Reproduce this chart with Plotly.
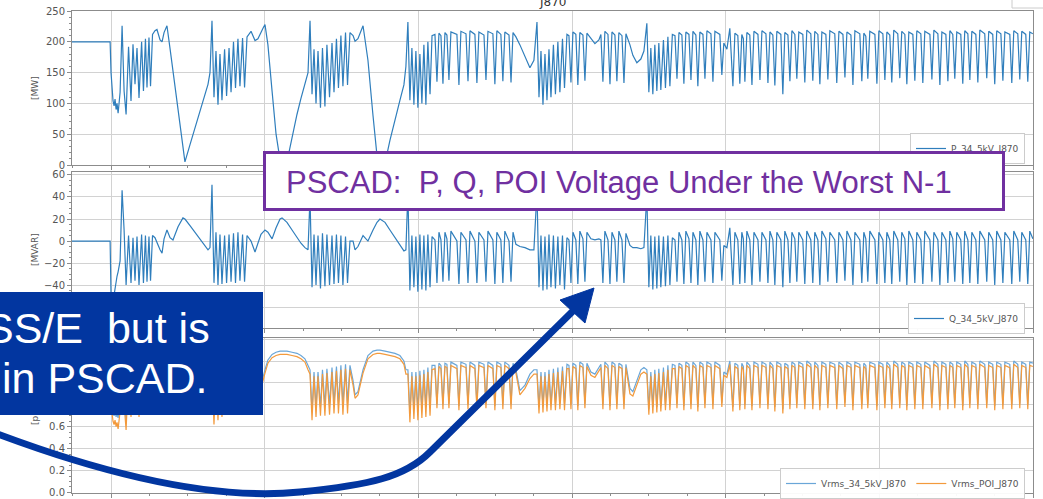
import plotly.graph_objects as go
from plotly.subplots import make_subplots

# ---------------- data ----------------
time_s = [
    0.746, 0.994,
    1.000, 1.007, 1.013, 1.020, 1.026, 1.033, 1.039, 1.046, 1.052, 1.059, 1.072, 1.085,
    1.098, 1.114, 1.130, 1.143, 1.156, 1.169, 1.182, 1.199, 1.211, 1.224, 1.234, 1.247, 1.257, 1.270,
    1.286, 1.299, 1.319, 1.332, 1.345, 1.364, 1.384, 1.403, 1.436, 1.468, 1.481, 1.514, 1.547, 1.579, 1.612, 1.631, 1.644,
    1.657, 1.670, 1.683, 1.696, 1.709, 1.722, 1.739, 1.752, 1.768, 1.781, 1.797, 1.810, 1.826, 1.839, 1.856, 1.869, 1.885,
    1.911, 1.937, 1.956, 1.976, 1.989, 2.002, 2.021, 2.048, 2.074, 2.100, 2.113, 2.145, 2.178, 2.210, 2.236, 2.262, 2.282,
    2.295, 2.308, 2.321, 2.334, 2.347, 2.363, 2.376, 2.392, 2.405, 2.422, 2.438, 2.451, 2.467, 2.480, 2.496, 2.509, 2.526, 2.539, 2.555,
    2.575, 2.588, 2.607, 2.640, 2.672, 2.705, 2.731, 2.750, 2.783, 2.815, 2.848, 2.880, 2.906, 2.919,
    2.932, 2.945, 2.958, 2.971, 2.984, 2.997, 3.010, 3.023, 3.036, 3.049, 3.062, 3.076, 3.089,
    3.108, 3.121, 3.134, 3.147, 3.160, 3.173, 3.186, 3.199, 3.212, 3.251, 3.264, 3.277, 3.310, 3.323, 3.336,
    3.368, 3.381, 3.394, 3.427, 3.440, 3.453, 3.485, 3.498, 3.511, 3.537, 3.550, 3.563, 3.590, 3.603, 3.616,
    3.635, 3.661, 3.694, 3.726, 3.752,
    3.772, 3.785, 3.798, 3.811, 3.824, 3.837, 3.850, 3.863, 3.879, 3.892, 3.908, 3.921, 3.938, 3.951, 3.967,
    3.980, 3.993, 4.006, 4.025, 4.038, 4.051, 4.071, 4.084, 4.097, 4.123, 4.149, 4.175, 4.188, 4.201, 4.214,
    4.234, 4.247, 4.260, 4.279, 4.292, 4.305, 4.325, 4.338, 4.351, 4.377, 4.396, 4.422, 4.448, 4.468,
    4.487, 4.500, 4.513, 4.526, 4.539, 4.552, 4.565, 4.578, 4.595, 4.608, 4.624, 4.637, 4.653,
    4.670, 4.683, 4.696, 4.715, 4.728, 4.741, 4.761, 4.774, 4.787, 4.806, 4.819, 4.832, 4.852, 4.865, 4.878,
    4.904, 4.917, 4.930, 4.962, 4.975, 4.988, 5.008, 5.027, 5.047, 5.060, 5.079, 5.092, 5.105, 5.115, 5.125,
    5.138, 5.157, 5.171, 5.184, 5.210, 5.223, 5.236, 5.262, 5.275, 5.288, 5.307, 5.320, 5.333, 5.359, 5.372,
    5.385, 5.405, 5.418, 5.431, 5.450, 5.463, 5.476, 5.502, 5.515, 5.528, 5.554, 5.567, 5.580, 5.600, 5.613,
    5.626, 5.652, 5.665, 5.678, 5.710, 5.723, 5.737, 5.763, 5.776, 5.789, 5.815, 5.828, 5.841, 5.873, 5.886,
    5.899, 5.912, 5.925, 5.938, 5.971, 5.984, 5.997, 6.023, 6.036, 6.049, 6.068, 6.081, 6.094, 6.120, 6.133,
    6.146, 6.166, 6.179, 6.192, 6.218, 6.231, 6.244, 6.270, 6.283, 6.296, 6.329, 6.342, 6.355, 6.381, 6.394,
    6.407, 6.433, 6.446, 6.459, 6.478, 6.491, 6.504, 6.530, 6.543, 6.556, 6.576, 6.589, 6.602, 6.628, 6.641,
    6.654, 6.686, 6.699, 6.712, 6.738, 6.751, 6.764, 6.791, 6.804, 6.817, 6.849, 6.862, 6.875, 6.901, 6.914,
    6.927, 6.953, 6.966, 6.979, 6.999,
]

p_mw = [
    200, 200,
    150, 112, 104, 96, 107, 90, 100, 84, 108, 118, 226, 120,
    82, 192, 104, 196, 131, 190, 109, 200, 120, 205, 126, 207, 128, 212,
    218, 220, 203, 200, 215, 226, 189, 152, 91, 30, 5, 33, 60, 88, 115, 131, 150,
    234, 110, 185, 98, 180, 105, 188, 112, 190, 118, 200, 125, 205, 128, 206, 126, 208,
    217, 202, 205, 217, 222, 228, 195, 120, 50, 8, 2, 5, 45, 82, 108, 131, 150,
    234, 115, 188, 100, 185, 93, 190, 95, 195, 110, 198, 118, 205, 125, 210, 128, 215, 130, 215,
    210, 201, 205, 226, 170, 80, 15, 2, 3, 40, 75, 105, 130, 160,
    232, 105, 190, 98, 185, 93, 180, 100, 195, 98, 200, 115, 210,
    212, 135, 214, 210, 132, 215, 211, 138, 216, 212, 130, 217, 213, 136, 218,
    212, 133, 216, 211, 138, 217, 213, 131, 218, 212, 136, 216, 211, 134, 215,
    208, 195, 175, 158, 170,
    232, 110, 185, 98, 180, 105, 188, 110, 195, 115, 200, 118, 205, 125, 212,
    210, 134, 216, 212, 130, 215, 211, 137, 214, 206, 197, 203, 212, 135, 217,
    212, 131, 216, 211, 136, 215, 210, 133, 213, 195, 178, 166, 172, 185,
    230, 118, 190, 115, 195, 120, 198, 122, 203, 125, 208, 128, 212,
    210, 140, 215, 211, 132, 216, 212, 138, 217, 211, 128, 216, 212, 140, 218,
    213, 135, 217, 212, 146, 198, 188, 222, 128, 214, 210, 132, 212, 205, 135,
    215, 211, 130, 217, 212, 138, 218, 213, 133, 216, 211, 129, 217, 212, 115,
    215, 211, 136, 218, 212, 140, 216, 212, 134, 219, 213, 137, 217, 212, 131,
    216, 212, 139, 218, 213, 133, 217, 212, 142, 216, 211, 130, 218, 213, 136,
    214, 209, 140, 217, 212, 132, 218, 213, 138, 216, 211, 134, 219, 213, 141,
    217, 212, 131, 216, 212, 137, 218, 213, 133, 217, 212, 139, 219, 213, 130,
    216, 212, 136, 218, 212, 140, 216, 212, 132, 218, 213, 138, 217, 212, 134,
    219, 213, 141, 217, 212, 131, 218, 213, 137, 216, 212, 133, 218, 213, 139,
    217, 212, 135, 216, 213,
]

q_mvar = [
    0, 0,
    -50, -62, -55, -48, -42, -38, -32, -28, -22, -18, 46, 10,
    -40, 5, -38, 3, -36, 4, -40, 6, -38, 5, -37, 4, -36, 5,
    3, -2, -8, -11, 2, 10, 3, 1, 13, 21, 20, 14, 8, 2, -4, -8, -6,
    51, -38, 8, -40, 6, -39, 5, -38, 6, -37, 7, -38, 8, -36, 6, -37, 5,
    0, -10, -2, 6, 8, 10, 8, 2, 12, 20, 21, 17, 10, 3, -2, -6, -8,
    40, -42, 6, -40, 5, -43, 7, -41, 6, -40, 5, -39, 6, -38, 5, -40, 4, -38, 0,
    0, -8, -5, 5, 0, 10, 17, 20, 17, 10, 3, -4, -9, -8,
    45, -45, 5, -42, 4, -46, 6, -44, 5, -45, 6, -42, 4,
    1, -38, 8, 1, -37, 8, 2, -36, 9, 0, -39, 8, 1, -38, 9,
    0, -38, 8, 1, -37, 9, 1, -39, 8, 1, -38, 9, 0, -37, 8,
    -3, -5, -6, -8, -8,
    45, -42, 5, -45, 4, -44, 6, -42, 5, -43, 4, -40, 5, -44, 3,
    1, -38, 8, 1, -39, 9, 2, -37, 8, 2, 1, 2, 1, -38, 9,
    1, -39, 8, 1, -37, 9, 1, -38, 7, -4, -6, -6, -7, -6,
    42, -42, 5, -44, 4, -43, 5, -42, 4, -41, 5, -40, 3,
    1, -37, 8, 1, -39, 9, 2, -38, 8, 1, -40, 9, 1, -37, 8,
    1, -38, 8, 1, -36, -4, -6, 12, -40, 8, 1, -39, 8, 2, -38,
    9, 1, -40, 8, 1, -37, 8, 1, -38, 9, 1, -40, 8, 1, -42,
    9, 1, -38, 8, 2, -37, 8, 1, -39, 9, 1, -38, 8, 1, -40,
    9, 2, -37, 8, 1, -38, 8, 1, -36, 9, 1, -40, 8, 1, -38,
    8, 2, -37, 9, 1, -39, 8, 1, -38, 8, 1, -39, 9, 1, -37,
    8, 2, -40, 9, 1, -38, 8, 1, -39, 9, 1, -37, 8, 1, -40,
    8, 1, -38, 9, 2, -37, 8, 1, -39, 9, 1, -38, 8, 1, -39,
    9, 1, -37, 8, 1, -40, 9, 1, -38, 8, 1, -39, 9, 1, -37,
    8, 1, -39, 9, 2,
]

v_34kv = [
    1.01, 1.01,
    0.86, 0.74, 0.72, 0.70, 0.74, 0.69, 0.72, 0.68, 0.75, 0.82, 1.10, 0.90,
    0.66, 1.12, 0.78, 1.13, 0.84, 1.12, 0.80, 1.14, 0.82, 1.15, 0.83, 1.16, 0.84, 1.18,
    1.12, 1.05, 0.95, 0.92, 1.02, 1.15, 1.24, 1.28, 1.30, 1.30, 1.30, 1.29, 1.28, 1.27, 1.24, 1.18, 1.10,
    1.12, 0.70, 1.10, 0.75, 1.10, 0.78, 1.12, 0.80, 1.13, 0.81, 1.14, 0.82, 1.15, 0.83, 1.16, 0.83, 1.17,
    1.10, 0.95, 0.90, 0.98, 1.05, 1.12, 1.21, 1.26, 1.28, 1.29, 1.29, 1.29, 1.28, 1.27, 1.25, 1.22, 1.16,
    1.12, 0.74, 1.10, 0.78, 1.10, 0.78, 1.12, 0.79, 1.13, 0.80, 1.14, 0.81, 1.15, 0.81, 1.16, 0.81, 1.17, 0.82, 1.16,
    1.02, 0.89, 0.92, 1.12, 1.25, 1.29, 1.30, 1.30, 1.29, 1.28, 1.27, 1.25, 1.20, 1.12,
    1.12, 0.72, 1.10, 0.76, 1.10, 0.75, 1.11, 0.77, 1.12, 0.78, 1.14, 0.79, 1.16,
    1.16, 0.80, 1.18, 1.16, 0.80, 1.18, 1.17, 0.81, 1.19, 1.16, 0.79, 1.19, 1.17, 0.80, 1.19,
    1.16, 0.80, 1.19, 1.17, 0.81, 1.19, 1.16, 0.79, 1.19, 1.17, 0.80, 1.19, 1.16, 0.80, 1.18,
    1.12, 0.93, 0.98, 1.08, 1.12,
    1.12, 0.78, 1.10, 0.79, 1.10, 0.80, 1.12, 0.80, 1.13, 0.81, 1.14, 0.82, 1.15, 0.81, 1.17,
    1.16, 0.80, 1.18, 1.16, 0.79, 1.19, 1.17, 0.81, 1.18, 1.10, 1.08, 1.14, 1.17, 0.80, 1.19,
    1.16, 0.79, 1.19, 1.17, 0.80, 1.18, 1.16, 0.80, 1.17, 0.95, 0.92, 1.02, 1.12, 1.14,
    1.12, 0.76, 1.10, 0.78, 1.12, 0.78, 1.13, 0.79, 1.14, 0.80, 1.16, 0.80, 1.17,
    1.16, 0.81, 1.18, 1.16, 0.79, 1.19, 1.17, 0.80, 1.19, 1.16, 0.78, 1.19, 1.17, 0.81, 1.19,
    1.17, 0.80, 1.19, 1.16, 0.82, 1.10, 1.08, 1.20, 0.78, 1.18, 1.16, 0.79, 1.18, 1.15, 0.80,
    1.19, 1.16, 0.79, 1.19, 1.17, 0.81, 1.19, 1.17, 0.80, 1.19, 1.16, 0.78, 1.19, 1.17, 0.76,
    1.18, 1.16, 0.80, 1.19, 1.17, 0.81, 1.19, 1.17, 0.80, 1.20, 1.17, 0.80, 1.19, 1.16, 0.79,
    1.19, 1.17, 0.81, 1.19, 1.17, 0.80, 1.19, 1.16, 0.82, 1.19, 1.17, 0.79, 1.19, 1.17, 0.80,
    1.18, 1.16, 0.81, 1.19, 1.17, 0.79, 1.19, 1.17, 0.81, 1.19, 1.16, 0.80, 1.20, 1.17, 0.81,
    1.19, 1.17, 0.79, 1.19, 1.17, 0.80, 1.19, 1.17, 0.80, 1.19, 1.16, 0.81, 1.20, 1.17, 0.79,
    1.19, 1.17, 0.80, 1.19, 1.17, 0.81, 1.19, 1.17, 0.79, 1.20, 1.17, 0.81, 1.19, 1.17, 0.80,
    1.20, 1.17, 0.81, 1.19, 1.17, 0.79, 1.19, 1.17, 0.80, 1.19, 1.17, 0.80, 1.20, 1.17, 0.81,
    1.19, 1.17, 0.80, 1.19, 1.18,
]

v_poi = [
    0.99, 0.99,
    0.80, 0.68, 0.65, 0.62, 0.66, 0.60, 0.64, 0.58, 0.67, 0.74, 1.05, 0.84,
    0.57, 1.08, 0.69, 1.10, 0.74, 1.08, 0.69, 1.10, 0.72, 1.11, 0.73, 1.12, 0.74, 1.14,
    1.08, 1.01, 0.92, 0.89, 0.99, 1.12, 1.21, 1.25, 1.27, 1.27, 1.27, 1.26, 1.25, 1.24, 1.21, 1.14, 1.05,
    1.08, 0.62, 1.06, 0.66, 1.06, 0.69, 1.08, 0.71, 1.09, 0.72, 1.10, 0.73, 1.11, 0.74, 1.12, 0.74, 1.13,
    1.07, 0.92, 0.87, 0.95, 1.02, 1.09, 1.18, 1.23, 1.25, 1.26, 1.26, 1.26, 1.25, 1.24, 1.22, 1.19, 1.12,
    1.08, 0.66, 1.06, 0.69, 1.06, 0.70, 1.08, 0.70, 1.09, 0.71, 1.10, 0.72, 1.11, 0.72, 1.12, 0.71, 1.13, 0.72, 1.12,
    0.98, 0.86, 0.89, 1.09, 1.22, 1.26, 1.27, 1.27, 1.26, 1.25, 1.24, 1.22, 1.17, 1.08,
    1.08, 0.64, 1.06, 0.67, 1.06, 0.66, 1.07, 0.68, 1.08, 0.69, 1.10, 0.70, 1.12,
    1.13, 0.77, 1.15, 1.13, 0.76, 1.15, 1.14, 0.77, 1.16, 1.13, 0.75, 1.16, 1.14, 0.76, 1.16,
    1.13, 0.76, 1.16, 1.14, 0.77, 1.16, 1.13, 0.75, 1.16, 1.14, 0.76, 1.16, 1.13, 0.76, 1.15,
    1.09, 0.89, 0.95, 1.04, 1.08,
    1.08, 0.72, 1.06, 0.73, 1.06, 0.74, 1.08, 0.75, 1.09, 0.75, 1.10, 0.76, 1.11, 0.75, 1.13,
    1.13, 0.76, 1.15, 1.13, 0.75, 1.16, 1.14, 0.77, 1.15, 1.07, 1.05, 1.11, 1.14, 0.76, 1.16,
    1.13, 0.75, 1.16, 1.14, 0.76, 1.15, 1.13, 0.76, 1.14, 0.90, 0.88, 0.98, 1.08, 1.10,
    1.08, 0.71, 1.06, 0.72, 1.08, 0.73, 1.09, 0.74, 1.10, 0.75, 1.12, 0.75, 1.13,
    1.13, 0.77, 1.15, 1.13, 0.75, 1.16, 1.14, 0.76, 1.16, 1.13, 0.74, 1.16, 1.14, 0.77, 1.16,
    1.14, 0.76, 1.16, 1.13, 0.78, 1.07, 1.05, 1.17, 0.74, 1.15, 1.13, 0.75, 1.15, 1.12, 0.76,
    1.16, 1.13, 0.75, 1.16, 1.14, 0.77, 1.16, 1.14, 0.76, 1.16, 1.13, 0.74, 1.16, 1.14, 0.72,
    1.15, 1.13, 0.76, 1.16, 1.14, 0.77, 1.16, 1.14, 0.76, 1.17, 1.14, 0.76, 1.16, 1.13, 0.75,
    1.16, 1.14, 0.77, 1.16, 1.14, 0.76, 1.16, 1.13, 0.78, 1.16, 1.14, 0.75, 1.16, 1.14, 0.76,
    1.15, 1.13, 0.77, 1.16, 1.14, 0.75, 1.16, 1.14, 0.77, 1.16, 1.13, 0.76, 1.17, 1.14, 0.77,
    1.16, 1.14, 0.75, 1.16, 1.14, 0.76, 1.16, 1.14, 0.76, 1.16, 1.13, 0.77, 1.17, 1.14, 0.75,
    1.16, 1.14, 0.76, 1.16, 1.14, 0.77, 1.16, 1.14, 0.75, 1.17, 1.14, 0.77, 1.16, 1.14, 0.76,
    1.17, 1.14, 0.77, 1.16, 1.14, 0.75, 1.16, 1.14, 0.76, 1.16, 1.14, 0.76, 1.17, 1.14, 0.77,
    1.16, 1.14, 0.76, 1.16, 1.15,
]

series_names = ["P_34_5kV_J870", "Q_34_5kV_J870", "Vrms_34_5kV_J870", "Vrms_POI_J870"]
y_titles = ["[MW]", "[MVAR]", "[pu]"]
plot_title = "J870"
box_title = "PSCAD:\u00a0 P, Q, POI Voltage Under the Worst N-1"
note_lines = ["SS/E\u00a0 but is", "in PSCAD."]
# tick values; labels under the slide's note box are not visible in the picture
q_tickvals = [-60, -40, -20, 0, 20, 40, 60]
q_ticktext = ["", "\u221240", "\u221220", "0", "20", "40", "60"]
v_tickvals = [0.0, 0.2, 0.4, 0.6, 0.8, 1.0, 1.2, 1.4]
v_ticktext = ["0.0", "0.2", "0.4", "0.6", "", "", "", ""]

n = len(time_s)
assert n == len(p_mw) == len(q_mvar) == len(v_34kv) == len(v_poi), (
    n, len(p_mw), len(q_mvar), len(v_34kv), len(v_poi))

# ---------------- layout helpers ----------------
W, H = 1043, 499
ML, MR, MT, MB = 72, 10, 11, 6
PW, PH = W - ML - MR, H - MT - MB


def X(px):
    return (px - ML) / PW


def Y(py):
    return (H - MB - py) / PH


BLUE = "#2f7ebc"
BLUE_V = "#6aa6d8"
ORANGE = "#f39a3c"
NAVY = "#0236a0"
PURPLE = "#7030a0"
GRID = "#d2d2d2"
FRAME = "#8c8c8c"
TICKFONT = dict(family="DejaVu Sans", size=10, color="#555555")

fig = make_subplots(rows=3, cols=1)

fig.add_trace(go.Scatter(x=time_s, y=p_mw, mode="lines", name=series_names[0],
                         line=dict(color=BLUE, width=1.2), legend="legend"), row=1, col=1)
fig.add_trace(go.Scatter(x=time_s, y=q_mvar, mode="lines", name=series_names[1],
                         line=dict(color=BLUE, width=1.2), legend="legend2"), row=2, col=1)
fig.add_trace(go.Scatter(x=time_s, y=v_34kv, mode="lines", name=series_names[2],
                         line=dict(color=BLUE_V, width=1.2), legend="legend3"), row=3, col=1)
fig.add_trace(go.Scatter(x=time_s, y=v_poi, mode="lines", name=series_names[3],
                         line=dict(color=ORANGE, width=1.2), legend="legend3"), row=3, col=1)

xcommon = dict(range=[0.746, 7.0], tick0=0, dtick=1, showticklabels=False,
               showgrid=True, gridcolor=GRID, gridwidth=1, zeroline=False,
               showline=True, mirror=True, linecolor=FRAME, linewidth=1,
               ticks="outside", ticklen=4, tickcolor=FRAME, automargin=False,
               minor=dict(dtick=0.25, ticks="outside", ticklen=2, tickcolor=FRAME, showgrid=False))
ycommon = dict(showgrid=True, gridcolor=GRID, gridwidth=1, zeroline=False,
               showline=True, mirror=True, linecolor=FRAME, linewidth=1, automargin=False,
               ticks="outside", ticklen=4, tickcolor=FRAME, tickfont=TICKFONT)

fig.update_layout(
    xaxis=dict(xcommon, domain=[0, 1]),
    xaxis2=dict(xcommon, domain=[0, 1]),
    xaxis3=dict(xcommon, domain=[0, 1]),
    yaxis=dict(ycommon, domain=[Y(165), Y(11)], range=[0, 250], tick0=0, dtick=50,
               minor=dict(dtick=10, ticks="outside", ticklen=2, tickcolor=FRAME, showgrid=False)),
    yaxis2=dict(ycommon, domain=[Y(328), Y(172)], range=[-79, 62.7],
                tickmode="array", tickvals=q_tickvals, ticktext=q_ticktext,
                minor=dict(dtick=5, tick0=0, ticks="outside", ticklen=2, tickcolor=FRAME, showgrid=False)),
    yaxis3=dict(ycommon, domain=[0, Y(338)], range=[-0.005, 1.41],
                tickmode="array", tickvals=v_tickvals, ticktext=v_ticktext,
                minor=dict(dtick=0.05, tick0=0, ticks="outside", ticklen=2, tickcolor=FRAME, showgrid=False)),
)

leg_common = dict(bgcolor="rgba(255,255,255,0.95)", bordercolor="#cccccc", borderwidth=1,
                  font=dict(family="DejaVu Sans", size=9, color="#555555"),
                  xanchor="right", yanchor="top", x=X(1025), tracegroupgap=0)

annotations = []
# y-axis titles
for txt, py in zip(y_titles, [88, 250, 416]):
    annotations.append(dict(text=txt, x=X(35), y=Y(py), xref="paper", yref="paper",
                            xanchor="center", yanchor="middle",
                            showarrow=False, textangle=-90,
                            font=dict(family="DejaVu Sans", size=9, color="#555555")))
# clipped chart title
annotations.append(dict(text=plot_title, x=X(552), y=Y(2), xref="paper", yref="paper",
                        xanchor="center", yanchor="middle",
                        showarrow=False, font=dict(family="DejaVu Sans", size=12, color="#333333")))
# purple callout box and its text
annotations.append(dict(text="\u00a0", x=X(633.5), y=Y(181.5), xref="paper", yref="paper",
                        xanchor="center", yanchor="middle", showarrow=False,
                        width=736, height=54, bgcolor="white", bordercolor=PURPLE,
                        borderwidth=3, borderpad=0))
annotations.append(dict(text=box_title, x=X(285), y=Y(183), xref="paper", yref="paper",
                        xanchor="left", yanchor="middle", showarrow=False, borderpad=0,
                        font=dict(family="Liberation Sans, Arial", size=31, color=PURPLE)))
# navy note box and its text
annotations.append(dict(text="\u00a0", x=X(121.5), y=Y(353.5), xref="paper", yref="paper",
                        xanchor="center", yanchor="middle", showarrow=False,
                        width=283, height=123, bgcolor=NAVY, borderwidth=0, borderpad=0))
annotations.append(dict(text=note_lines[0], x=X(211), y=Y(328), xref="paper", yref="paper",
                        xanchor="right", yanchor="middle", showarrow=False, borderpad=0,
                        font=dict(family="Liberation Sans, Arial", size=43, color="white")))
annotations.append(dict(text=note_lines[1], x=X(209), y=Y(378), xref="paper", yref="paper",
                        xanchor="right", yanchor="middle", showarrow=False, borderpad=0,
                        font=dict(family="Liberation Sans, Arial", size=43, color="white")))

shaft = (f"M {X(-5)},{Y(433)} C {X(120)},{Y(480)} {X(220)},{Y(500)} {X(300)},{Y(492)} "
         f"C {X(370)},{Y(485)} {X(405)},{Y(477)} {X(430)},{Y(452)} L {X(575)},{Y(309)}")
head = f"M {X(594)},{Y(288)} L {X(560)},{Y(300)} L {X(585)},{Y(323)} Z"

shapes = [
    dict(type="path", path=shaft, xref="paper", yref="paper", layer="above",
         line=dict(color=NAVY, width=7)),
    dict(type="path", path=head, xref="paper", yref="paper", layer="above",
         fillcolor=NAVY, line=dict(color=NAVY, width=1)),
    dict(type="rect", x0=X(1012), x1=X(1060), y0=Y(8), y1=Y(-10), xref="paper", yref="paper",
         layer="above", line=dict(color="#cccccc", width=1), fillcolor="white"),
]

fig.update_layout(
    width=W, height=H, autosize=False,
    margin=dict(l=ML, r=MR, t=MT, b=MB, pad=0, autoexpand=False),
    paper_bgcolor="white", plot_bgcolor="white",
    font=dict(family="DejaVu Sans"),
    showlegend=True,
    legend=dict(leg_common, y=Y(133)),
    legend2=dict(leg_common, y=Y(303)),
    legend3=dict(leg_common, y=Y(468), orientation="h"),
    annotations=annotations,
    shapes=shapes,
)

fig.write_html(
    "out.html",
    config={"displayModeBar": False},
    post_script="document.body.style.margin='0';document.body.style.overflow='hidden';",
)
